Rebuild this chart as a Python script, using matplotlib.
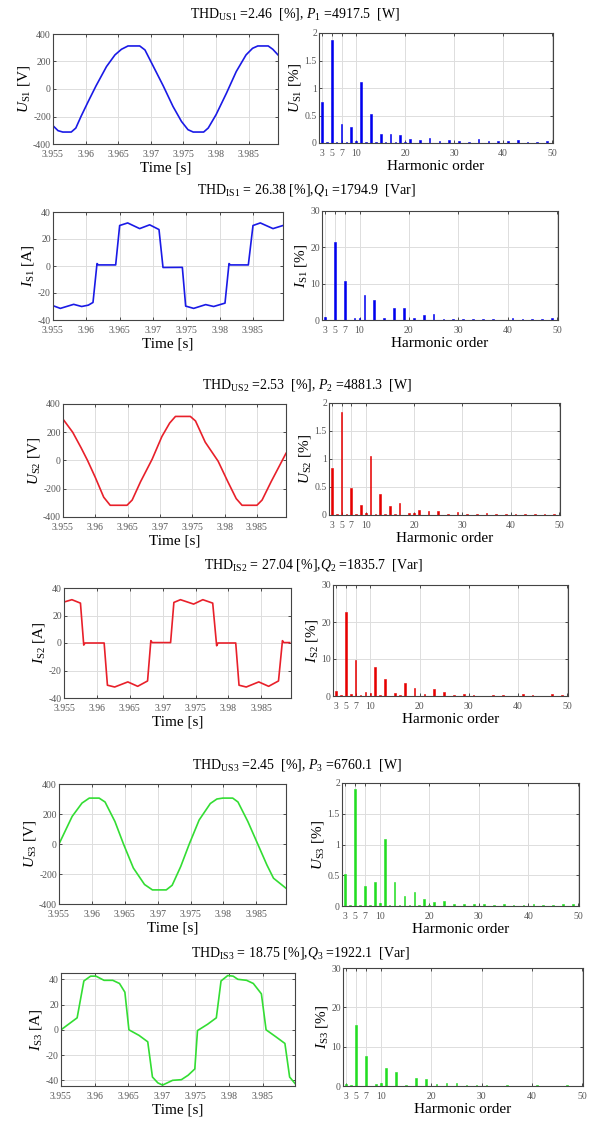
import numpy as np
import matplotlib
matplotlib.use('Agg')
import matplotlib.pyplot as plt

plt.rcParams['font.family'] = ['Liberation Serif', 'DejaVu Serif']
plt.rcParams['mathtext.fontset'] = 'custom'
plt.rcParams['mathtext.rm'] = 'Liberation Serif'
plt.rcParams['mathtext.it'] = 'Liberation Serif:italic'
plt.rcParams['axes.unicode_minus'] = False

# ---- waveforms ----
t_us1 = [3.955, 3.95577, 3.9565, 3.9578, 3.9585, 3.9593, 3.9604, 3.9616, 3.9632, 3.9645, 3.9655, 3.9665,
         3.9683, 3.9691, 3.9704, 3.9719, 3.9734, 3.9747, 3.9757, 3.9765, 3.9781, 3.9788, 3.9800, 3.9816,
         3.9831, 3.9846, 3.9856, 3.9864, 3.9880, 3.9887, 3.9895]
us1 = [-267, -303, -313, -313, -284, -199, -91, 23, 163, 248, 289, 313,
       313, 284, 163, 23, -127, -236, -296, -313, -313, -284, -187, -30,
       127, 248, 296, 313, 313, 289, 248]

t_is1 = [3.955, 3.9561, 3.9581, 3.9593, 3.9603, 3.9610, 3.9616, 3.9618, 3.9644, 3.9650, 3.9662, 3.9680,
         3.9695, 3.9709, 3.9715, 3.9744, 3.9749, 3.9761, 3.9779, 3.9791, 3.9808, 3.9814, 3.9816, 3.9843,
         3.9850, 3.9861, 3.9880, 3.9895]
is1 = [-29.4, -31.4, -28.4, -30.0, -29.0, -27.0, 1.8, 0.8, 0.8, 30.0, 31.9, 27.7,
       30.5, 27.0, -1.1, -1.0, -29.7, -31.4, -28.6, -30.0, -27.5, 1.8, 0.8, 0.8,
       30.0, 31.9, 27.7, 30.0]

t_us2 = [3.955, 3.9565, 3.9578, 3.9588, 3.9600, 3.9613, 3.9623, 3.9649, 3.9657, 3.9670, 3.9688, 3.9703,
         3.9715, 3.9724, 3.9747, 3.9755, 3.9770, 3.9790, 3.9805, 3.9818, 3.9827, 3.9850, 3.9858, 3.9872,
         3.9895]
us2 = [293, 200, 90, 0, -120, -260, -317, -317, -280, -150, 10, 170,
       265, 312, 312, 280, 130, -5, -150, -270, -317, -317, -280, -150,
       51]

t_is2 = [3.955, 3.9562, 3.9575, 3.9580, 3.9582, 3.9611, 3.9616, 3.9627, 3.9647, 3.9662, 3.9677, 3.9682,
         3.9684, 3.9712, 3.9717, 3.9727, 3.9747, 3.9761, 3.9776, 3.9782, 3.9784, 3.9811, 3.9816, 3.9827,
         3.9846, 3.9861, 3.9876, 3.9882, 3.9884, 3.9893]
is2 = [29.8, 31.5, 29.0, -1.5, 0.0, 0.0, -30.7, -32.0, -28.3, -31.5, -27.6, 1.7,
       0.3, 0.3, 29.5, 31.5, 28.3, 31.5, 29.0, -2.0, 0.0, 0.0, -30.7, -32.0,
       -28.3, -31.5, -27.6, 1.7, 0.3, 0.3]

t_us3 = [3.955, 3.9570, 3.9585, 3.9596, 3.9611, 3.9620, 3.9635, 3.9648, 3.9663, 3.9680, 3.9692, 3.9713,
         3.9722, 3.9735, 3.9748, 3.9763, 3.9780, 3.9790, 3.9799, 3.9814, 3.9822, 3.9837, 3.9852, 3.9866,
         3.9876, 3.9895]
us3 = [0, 184, 273, 306, 306, 280, 150, 0, -160, -270, -306, -306,
       -275, -150, 0, 160, 270, 300, 306, 306, 280, 150, 0, -140,
       -228, -295]

t_is3 = [3.955, 3.9574, 3.9584, 3.9594, 3.9602, 3.9614, 3.9627, 3.9637, 3.9645, 3.9651, 3.9666, 3.9679,
         3.9686, 3.9694, 3.9701, 3.9716, 3.9729, 3.9739, 3.9749, 3.9753, 3.9768, 3.9781, 3.9788, 3.9798,
         3.9806, 3.9813, 3.9826, 3.9836, 3.9848, 3.9855, 3.9870, 3.9883, 3.9890, 3.9898]
is3 = [0.0, 9.5, 38.7, 42.5, 42.5, 39.2, 39.2, 36.7, 29.8, 0.0, -4.4, -9.5,
       -37.4, -42.0, -43.8, -40.0, -39.5, -36.0, -31.0, -0.6, 4.4, 9.5, 38.7, 43.0,
       42.5, 40.0, 39.2, 36.7, 28.5, 0.0, -5.7, -10.8, -37.4, -42.5]

# ---- harmonic spectra ----
h_us1 = [2, 3, 4, 5, 6, 7, 8, 9, 10, 11, 12, 13, 14, 15, 16, 17, 18, 19, 20, 21, 23, 25, 27, 29, 31, 33, 35,
         37, 39, 41, 43, 45, 47, 49]
v_us1 = [0.01, 0.745, 0.01, 1.87, 0.01, 0.35, 0.01, 0.30, 0.03, 1.11, 0.01, 0.52, 0.01, 0.17, 0.01, 0.17, 0.01,
         0.15, 0.01, 0.07, 0.05, 0.10, 0.04, 0.06, 0.03, 0.02, 0.07, 0.04, 0.03, 0.04, 0.05, 0.02, 0.02, 0.03]

h_is1 = [3, 5, 7, 9, 10, 11, 13, 15, 17, 19, 21, 23, 25, 27, 29, 31, 33, 35, 37, 41, 43, 45, 47, 49]
v_is1 = [0.9, 21.5, 10.8, 0.6, 0.5, 6.9, 5.5, 0.6, 3.4, 3.2, 0.45, 1.4, 1.55, 0.2, 0.4, 0.4, 0.2, 0.2, 0.2,
         0.45, 0.4, 0.2, 0.35, 0.5]

h_us2 = [2, 3, 4, 5, 6, 7, 8, 9, 10, 11, 12, 13, 14, 15, 16, 17, 19, 20, 21, 23, 25, 27, 29, 31, 33, 35,
         37, 39, 41, 43, 45, 47, 49]
v_us2 = [0.02, 0.84, 0.02, 1.84, 0.02, 0.48, 0.02, 0.18, 0.03, 1.06, 0.02, 0.37, 0.02, 0.16, 0.02, 0.21,
         0.03, 0.03, 0.09, 0.08, 0.08, 0.02, 0.05, 0.02, 0.02, 0.04, 0.02, 0.02, 0.025, 0.02, 0.02, 0.025, 0.02]

h_is2 = [3, 4, 5, 6, 7, 8, 9, 10, 11, 12, 13, 15, 16, 17, 19, 21, 23, 25, 27, 29, 31, 35, 37, 41, 43, 47, 49]
v_is2 = [1.35, 0.3, 22.6, 0.45, 9.7, 0.3, 1.0, 0.7, 7.9, 0.35, 4.5, 0.7, 0.3, 3.6, 2.1, 0.45, 1.9, 1.1, 0.2,
         0.55, 0.35, 0.2, 0.2, 0.45, 0.2, 0.45, 0.2]

h_us3 = [2, 3, 4, 5, 6, 7, 8, 9, 10, 11, 12, 13, 14, 15, 16, 17, 18, 19, 20, 21, 23, 25, 27, 29, 31, 33, 35,
         37, 39, 41, 43, 45, 47, 49]
v_us3 = [0.02, 0.52, 0.02, 1.90, 0.02, 0.32, 0.02, 0.39, 0.05, 1.09, 0.02, 0.39, 0.02, 0.17, 0.02, 0.23, 0.02,
         0.11, 0.02, 0.06, 0.08, 0.04, 0.04, 0.035, 0.03, 0.02, 0.03, 0.02, 0.02, 0.03, 0.02, 0.02, 0.03, 0.03]

h_is3 = [3, 4, 5, 7, 9, 10, 11, 13, 15, 17, 19, 21, 23, 25, 27, 29, 31, 35, 41, 47]
v_is3 = [0.4, 0.35, 15.5, 7.6, 0.6, 0.8, 4.7, 3.6, 0.2, 2.05, 1.8, 0.4, 0.8, 0.75, 0.2, 0.2, 0.2, 0.2, 0.2, 0.2]

titles = [r'THD$_{\rm US1}$ =2.46  [%], $P_{\rm 1}$ =4917.5  [W]',
          r'THD$_{\rm IS1}$ = 26.38 [%],$Q_{\rm 1}$ =1794.9  [Var]',
          r'THD$_{\rm US2}$ =2.53  [%], $P_{\rm 2}$ =4881.3  [W]',
          r'THD$_{\rm IS2}$ = 27.04 [%],$Q_{\rm 2}$ =1835.7  [Var]',
          r'THD$_{\rm US3}$ =2.45  [%], $P_{\rm 3}$ =6760.1  [W]',
          r'THD$_{\rm IS3}$ = 18.75 [%],$Q_{\rm 3}$ =1922.1  [Var]']

# pixel boxes (x0, x1, ytop, ybottom)
left_boxes = [(53, 278, 34, 144), (53, 283, 212, 320), (63, 286, 404, 517),
              (64, 291, 588, 698), (59, 286, 784, 904), (61, 295, 973, 1086)]
right_boxes = [(319, 553, 33, 143), (322, 558, 211, 320), (329, 560, 403, 515),
               (333, 568, 585, 696), (342, 579, 783, 906), (343, 583, 968, 1086)]
title_pos = [(295, 14), (306, 190), (307, 385), (313, 565), (297, 765), (300, 953)]

W, H = 590, 1122
fig = plt.figure(figsize=(W / 100, H / 100), dpi=100)


def box(b):
    x0, x1, yt, yb = b
    return [x0 / W, 1 - yb / H, (x1 - x0) / W, (yb - yt) / H]


def style(ax):
    ax.grid(True, color='#dddddd', linewidth=0.7)
    ax.set_axisbelow(True)
    ax.tick_params(direction='in', top=True, right=True, labelsize=7, colors='#333333',
                   labelcolor='#555555', length=2.5, width=0.6, pad=1.5)
    ax.tick_params(axis='x', pad=4)
    for s in ax.spines.values():
        s.set_color('#444444')
        s.set_linewidth(0.8)


waves = [(t_us1, us1), (t_is1, is1), (t_us2, us2), (t_is2, is2), (t_us3, us3), (t_is3, is3)]
specs = [(h_us1, v_us1), (h_is1, v_is1), (h_us2, v_us2), (h_is2, v_is2), (h_us3, v_us3), (h_is3, v_is3)]
colors = ['#1a1ae6', '#1a1ae6', '#e8202a', '#e8202a', '#33dd33', '#33dd33']
bar_colors = ['#0000ee', '#0000ee', '#e60000', '#e60000', '#22dd22', '#22dd22']
names = ['S1', 'S1', 'S2', 'S2', 'S3', 'S3']
tticks = [3.955, 3.96, 3.965, 3.97, 3.975, 3.98, 3.985]
tlabels = ['3.955', '3.96', '3.965', '3.97', '3.975', '3.98', '3.985']

for k in range(6):
    is_volt = (k % 2 == 0)
    ax = fig.add_axes(box(left_boxes[k]))
    t, v = waves[k]
    ax.plot(t, v, color=colors[k], linewidth=1.2)
    ax.set_xlim(3.955, 3.9895 if k < 5 else 3.9898)
    ax.set_xticks(tticks)
    ax.set_xticklabels(tlabels)
    if is_volt:
        ax.set_ylim(-400, 400)
        ax.set_yticks([-400, -200, 0, 200, 400])
        ax.set_ylabel(r'$U_{\rm %s}$ [V]' % names[k], fontsize=11, labelpad=1)
    else:
        if k == 5:
            ax.set_ylim(-44.5, 45)
        else:
            ax.set_ylim(-40, 40)
        ax.set_yticks([-40, -20, 0, 20, 40])
        ax.set_ylabel(r'$I_{\rm %s}$ [A]' % names[k], fontsize=11, labelpad=1)
    ax.set_xlabel('Time [s]', fontsize=11, labelpad=2)
    style(ax)

    ax2 = fig.add_axes(box(right_boxes[k]))
    h, a = specs[k]
    ax2.bar(h, a, width=0.35, color=bar_colors[k], edgecolor=bar_colors[k], linewidth=0.4)
    ax2.set_xlim(2.4, 50.2)
    ax2.set_xticks([3, 5, 7, 10, 20, 30, 40, 50])
    if is_volt:
        ax2.set_ylim(0, 2)
        ax2.set_yticks([0, 0.5, 1, 1.5, 2])
        ax2.set_yticklabels(['0', '0.5', '1', '1.5', '2'])
        ax2.set_ylabel(r'$U_{\rm %s}$ [%%]' % names[k], fontsize=11, labelpad=1)
    else:
        ax2.set_ylim(0, 30)
        ax2.set_yticks([0, 10, 20, 30])
        ax2.set_ylabel(r'$I_{\rm %s}$ [%%]' % names[k], fontsize=11, labelpad=1)
    ax2.set_xlabel('Harmonic order', fontsize=11, labelpad=2)
    style(ax2)

    tx, ty = title_pos[k]
    fig.text(tx / W, 1 - ty / H, titles[k], ha='center', va='center', fontsize=10)

fig.savefig('out.png', dpi=100)
